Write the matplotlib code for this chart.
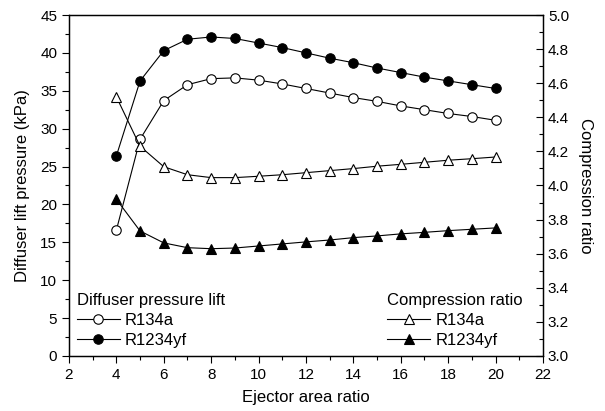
import matplotlib
matplotlib.use("Agg")
import matplotlib.pyplot as plt
from matplotlib.ticker import MultipleLocator

plt.rcParams['font.family'] = ['Liberation Sans', 'DejaVu Sans']

# Ejector area ratio
area_ratio = [4, 5, 6, 7, 8, 9, 10, 11, 12, 13, 14, 15, 16, 17, 18, 19, 20]

# Diffuser pressure lift (kPa)
lift_r134a = [16.6, 28.6, 33.7, 35.8, 36.6, 36.7, 36.4, 35.9, 35.3, 34.7,
              34.1, 33.6, 33.0, 32.5, 32.0, 31.6, 31.1]
lift_r1234yf = [26.4, 36.3, 40.3, 41.8, 42.1, 41.9, 41.3, 40.7, 40.0, 39.3,
                38.7, 38.0, 37.4, 36.8, 36.3, 35.8, 35.3]

# Compression ratio
cr_r134a = [4.52, 4.23, 4.11, 4.063, 4.046, 4.046, 4.054, 4.063, 4.075, 4.087,
            4.099, 4.113, 4.124, 4.136, 4.148, 4.157, 4.167]
cr_r1234yf = [3.919, 3.733, 3.663, 3.635, 3.629, 3.633, 3.645, 3.657, 3.669, 3.680,
              3.694, 3.704, 3.716, 3.725, 3.735, 3.743, 3.751]

fig = plt.figure(figsize=(6.05, 4.11), dpi=100)
ax = fig.add_axes([0.114, 0.134, 0.7835, 0.8295])
ax2 = ax.twinx()

lw = 0.8
ms_c = 6.8
ms_t = 7.8
l1, = ax.plot(area_ratio, lift_r134a, '-o', color='black', lw=lw, ms=ms_c,
              mfc='white', mec='black', mew=0.8, label='R134a')
l2, = ax.plot(area_ratio, lift_r1234yf, '-o', color='black', lw=lw, ms=ms_c,
              mfc='black', mec='black', mew=0.8, label='R1234yf')
l3, = ax2.plot(area_ratio, cr_r134a, '-^', color='black', lw=lw, ms=ms_t,
               mfc='white', mec='black', mew=0.8, label='R134a')
l4, = ax2.plot(area_ratio, cr_r1234yf, '-^', color='black', lw=lw, ms=ms_t,
               mfc='black', mec='black', mew=0.8, label='R1234yf')

ax.set_xlim(2, 22)
ax.set_ylim(0, 45)
ax2.set_ylim(3.0, 5.0)

ax.xaxis.set_major_locator(MultipleLocator(2))
ax.xaxis.set_minor_locator(MultipleLocator(1))
ax.yaxis.set_major_locator(MultipleLocator(5))
ax.yaxis.set_minor_locator(MultipleLocator(2.5))
ax2.yaxis.set_major_locator(MultipleLocator(0.2))
ax2.yaxis.set_minor_locator(MultipleLocator(0.1))
ax2.yaxis.set_major_formatter(plt.FormatStrFormatter('%.1f'))

ax.tick_params(axis='x', which='both', direction='out', bottom=True, top=False,
               labelsize=11)
ax.tick_params(axis='y', which='both', direction='out', left=True, right=False,
               labelsize=11)
ax.tick_params(which='major', length=5, width=0.8)
ax.tick_params(which='minor', length=3, width=0.8)
ax2.tick_params(axis='y', which='both', direction='in', right=True, labelsize=11)
ax2.tick_params(axis='y', which='major', length=5, width=0.8)
ax2.tick_params(axis='y', which='minor', length=3, width=0.8)
ax2.tick_params(axis='x', which='both', direction='in', top=True, bottom=False,
                labeltop=False, labelbottom=False, length=3, width=0.8)

for a in (ax, ax2):
    for s in a.spines.values():
        s.set_linewidth(0.9)

ax.set_xlabel('Ejector area ratio', fontsize=12, labelpad=6)
ax.set_ylabel('Diffuser lift pressure (kPa)', fontsize=12, labelpad=7)
ax2.set_ylabel('Compression ratio', fontsize=12, rotation=270, labelpad=17)

leg_kw = dict(frameon=False, fontsize=12, title_fontsize=12, handlelength=2.6,
              handletextpad=0.3, labelspacing=0.32, borderpad=0, borderaxespad=0,
              alignment='left', loc='upper left')
leg1 = ax2.legend([l1, l2], ['R134a', 'R1234yf'], title='Diffuser pressure lift',
                  bbox_to_anchor=(0.016, 0.186), **leg_kw)
ax2.add_artist(leg1)
leg2 = ax2.legend([l3, l4], ['R134a', 'R1234yf'], title='Compression ratio',
                  bbox_to_anchor=(0.671, 0.186), **leg_kw)

fig.savefig('out.png', dpi=100)
